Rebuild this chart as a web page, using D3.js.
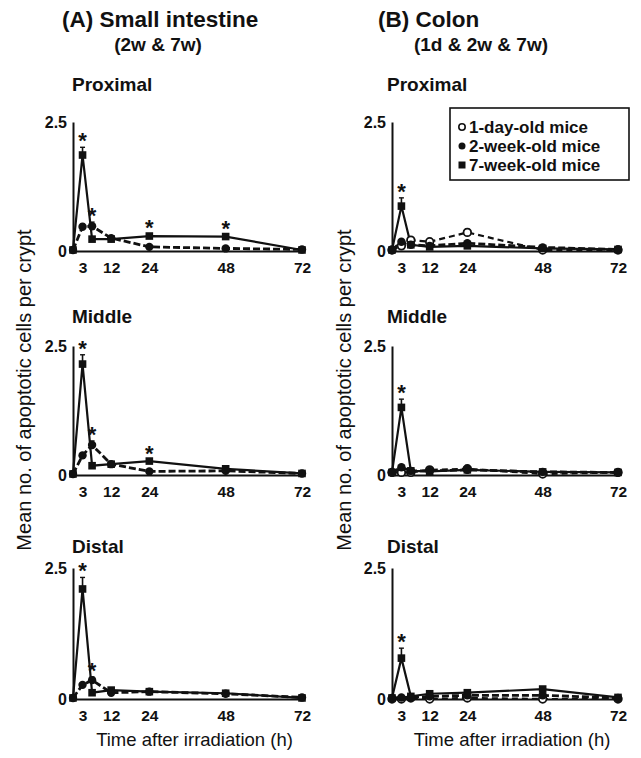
<!DOCTYPE html>
<html>
<head>
<meta charset="utf-8">
<script src="https://cdn.jsdelivr.net/npm/d3@7"></script>
<style>
  body { margin: 0; background: #fff; }
  svg { display: block; font-family: "Liberation Sans", Arial, sans-serif; }
</style>
</head>
<body>
<svg width="641" height="758"></svg>
<script>
// time points (h after irradiation)
var hours = [0, 3, 6, 12, 24, 48, 72];
var xTicks = [3, 12, 24, 48, 72];
var yTicks = [0, 2.5];

// (A) small intestine: 2-week and 7-week mice
var siProximal2w = [0.02, 0.47, 0.48, 0.25, 0.08, 0.05, 0.03];
var siProximal7w = [0.02, 1.86, 0.23, 0.23, 0.29, 0.28, 0.02];
var siMiddle2w = [0.02, 0.38, 0.58, 0.21, 0.07, 0.08, 0.03];
var siMiddle7w = [0.02, 2.15, 0.18, 0.21, 0.27, 0.12, 0.03];
var siDistal2w = [0.02, 0.27, 0.36, 0.12, 0.14, 0.10, 0.03];
var siDistal7w = [0.02, 2.10, 0.12, 0.17, 0.14, 0.11, 0.02];

// upper error bars
var siProximal2wErr = [0, 0.05, 0.08, 0.02, 0.01, 0.01, 0];
var siProximal7wErr = [0, 0.15, 0.02, 0.02, 0.03, 0.03, 0];
var siMiddle2wErr = [0, 0.05, 0.08, 0.02, 0.01, 0.01, 0];
var siMiddle7wErr = [0, 0.18, 0.02, 0.02, 0.03, 0.02, 0];
var siDistal2wErr = [0, 0.04, 0.06, 0.02, 0.02, 0.01, 0];
var siDistal7wErr = [0, 0.22, 0.02, 0.02, 0.02, 0.02, 0];

// (B) colon: 1-day, 2-week and 7-week mice
var coProximal1d = [0.02, 0.10, 0.21, 0.18, 0.36, 0.02, 0.02];
var coProximal2w = [0.02, 0.18, 0.12, 0.10, 0.15, 0.07, 0.03];
var coProximal7w = [0.02, 0.87, 0.12, 0.08, 0.10, 0.05, 0.03];
var coMiddle1d = [0.05, 0.05, 0.05, 0.10, 0.12, 0.02, 0.05];
var coMiddle2w = [0.05, 0.15, 0.08, 0.08, 0.10, 0.06, 0.05];
var coMiddle7w = [0.05, 1.31, 0.08, 0.07, 0.10, 0.06, 0.05];
var coDistal1d = [0.00, 0.00, 0.02, 0.00, 0.02, 0.00, 0.00];
var coDistal2w = [0.02, 0.03, 0.03, 0.05, 0.07, 0.07, 0.02];
var coDistal7w = [0.02, 0.78, 0.05, 0.10, 0.12, 0.19, 0.03];

var coProximal1dErr = [0, 0.02, 0.03, 0.03, 0.06, 0.01, 0];
var coProximal7wErr = [0, 0.16, 0.02, 0.01, 0.02, 0.01, 0];
var coMiddle7wErr = [0, 0.16, 0.01, 0.01, 0.02, 0.01, 0];
var coDistal7wErr = [0, 0.19, 0.01, 0.02, 0.02, 0.03, 0];
var zeroErr = [0, 0, 0, 0, 0, 0, 0];

// significance marks (*)
var siProximalStars = [3, 6, 24, 48];
var siMiddleStars = [3, 6, 24];
var siDistalStars = [3, 6];
var coProximalStars = [3];
var coMiddleStars = [3];
var coDistalStars = [3];

var legendLabels = ["1-day-old mice", "2-week-old mice", "7-week-old mice"];
var sectionNames = ["Proximal", "Middle", "Distal"];

var svg = d3.select("svg");

var styles = {
  d1: { dash: "6,4", width: 2.2, marker: "open" },
  w2: { dash: "7,3", width: 2.8, marker: "circle" },
  w7: { dash: null, width: 2.2, marker: "square" }
};

// layout
var cols = [
  { x0: 73, x1: 302, labelX: 72, yTitleX: 24 },
  { x0: 392, x1: 618, labelX: 387, yTitleX: 344 }
];
var rows = [
  { y0: 251, y1: 122, labelY: 91 },
  { y0: 475, y1: 346, labelY: 323 },
  { y0: 699, y1: 568, labelY: 553 }
];

function mk(key, vals, err) {
  return { key: key, vals: vals, err: err };
}

var panels = [
  { col: 0, row: 0, stars: siProximalStars, series: [mk("w2", siProximal2w, siProximal2wErr), mk("w7", siProximal7w, siProximal7wErr)] },
  { col: 0, row: 1, stars: siMiddleStars, series: [mk("w2", siMiddle2w, siMiddle2wErr), mk("w7", siMiddle7w, siMiddle7wErr)] },
  { col: 0, row: 2, stars: siDistalStars, series: [mk("w2", siDistal2w, siDistal2wErr), mk("w7", siDistal7w, siDistal7wErr)] },
  { col: 1, row: 0, stars: coProximalStars, series: [mk("d1", coProximal1d, coProximal1dErr), mk("w2", coProximal2w, zeroErr), mk("w7", coProximal7w, coProximal7wErr)] },
  { col: 1, row: 1, stars: coMiddleStars, series: [mk("d1", coMiddle1d, zeroErr), mk("w2", coMiddle2w, zeroErr), mk("w7", coMiddle7w, coMiddle7wErr)] },
  { col: 1, row: 2, stars: coDistalStars, series: [mk("d1", coDistal1d, zeroErr), mk("w2", coDistal2w, zeroErr), mk("w7", coDistal7w, coDistal7wErr)] }
];

function drawMarker(sel, type, x, y) {
  if (type === "square") {
    sel.append("rect").attr("x", x - 3.8).attr("y", y - 3.8)
      .attr("width", 7.6).attr("height", 7.6).attr("fill", "#111");
  } else if (type === "circle") {
    sel.append("circle").attr("cx", x).attr("cy", y).attr("r", 4.2).attr("fill", "#111");
  } else {
    sel.append("circle").attr("cx", x).attr("cy", y).attr("r", 3.8)
      .attr("fill", "#fff").attr("stroke", "#111").attr("stroke-width", 1.8);
  }
}

panels.forEach(function (p) {
  var c = cols[p.col], r = rows[p.row];
  var x = d3.scaleLinear().domain([0, 72]).range([c.x0, c.x1]);
  var y = d3.scaleLinear().domain([0, 2.5]).range([r.y0, r.y1]);
  var g = svg.append("g");

  // axes
  var ya = g.append("g").attr("transform", "translate(" + c.x0 + ",0)")
    .call(d3.axisLeft(y).tickValues(yTicks).tickSize(0).tickPadding(6)
      .tickFormat(function (d) { return d === 0 ? "0" : "2.5"; }));
  ya.select(".domain").attr("stroke", "#111").attr("stroke-width", 2);
  ya.selectAll("text").attr("font-size", 16).attr("font-weight", "bold")
    .attr("fill", "#111").attr("font-family", "Liberation Sans, Arial, sans-serif");

  var xa = g.append("g").attr("transform", "translate(0," + r.y0 + ")")
    .call(d3.axisBottom(x).tickValues(xTicks).tickSize(0).tickPadding(11));
  xa.select(".domain").attr("stroke", "#111").attr("stroke-width", 2);
  xa.selectAll("text").attr("font-size", 15.5).attr("font-weight", "bold")
    .attr("fill", "#111").attr("font-family", "Liberation Sans, Arial, sans-serif");

  // lines
  p.series.forEach(function (s) {
    var st = styles[s.key];
    var line = d3.line().x(function (d, i) { return x(hours[i]); }).y(function (d) { return y(d); });
    g.append("path").datum(s.vals).attr("d", line)
      .attr("fill", "none").attr("stroke", "#111")
      .attr("stroke-width", st.width)
      .attr("stroke-dasharray", st.dash);
  });

  // error bars
  p.series.forEach(function (s) {
    s.vals.forEach(function (v, i) {
      if (!s.err[i]) return;
      var xx = x(hours[i]);
      g.append("line").attr("x1", xx).attr("x2", xx)
        .attr("y1", y(v)).attr("y2", y(v + s.err[i]))
        .attr("stroke", "#111").attr("stroke-width", 1.6);
      g.append("line").attr("x1", xx - 2.5).attr("x2", xx + 2.5)
        .attr("y1", y(v + s.err[i])).attr("y2", y(v + s.err[i]))
        .attr("stroke", "#111").attr("stroke-width", 1.4);
    });
  });

  // markers
  p.series.forEach(function (s) {
    var st = styles[s.key];
    s.vals.forEach(function (v, i) {
      drawMarker(g, st.marker, x(hours[i]), y(v));
    });
  });

  // stars
  p.stars.forEach(function (t) {
    var i = hours.indexOf(t);
    var top = d3.max(p.series, function (s) { return s.vals[i] + s.err[i]; });
    g.append("text").attr("x", x(t)).attr("y", y(top) + 1)
      .attr("text-anchor", "middle").attr("font-size", 22).attr("font-weight", "bold")
      .attr("fill", "#111").text("*");
  });

  // section label
  svg.append("text").attr("x", c.labelX).attr("y", r.labelY)
    .attr("font-size", 19).attr("font-weight", "bold").attr("fill", "#111")
    .text(sectionNames[p.row]);
});

// column titles
svg.append("text").attr("x", 62).attr("y", 27).attr("font-size", 22.5)
  .attr("font-weight", "bold").attr("fill", "#111").text("(A) Small intestine");
svg.append("text").attr("x", 158).attr("y", 51).attr("font-size", 19)
  .attr("text-anchor", "middle").attr("font-weight", "bold").attr("fill", "#111").text("(2w & 7w)");
svg.append("text").attr("x", 378).attr("y", 27).attr("font-size", 22.5)
  .attr("font-weight", "bold").attr("fill", "#111").text("(B) Colon");
svg.append("text").attr("x", 481).attr("y", 51).attr("font-size", 19)
  .attr("text-anchor", "middle").attr("font-weight", "bold").attr("fill", "#111").text("(1d & 2w & 7w)");

// axis titles
cols.forEach(function (c) {
  svg.append("text")
    .attr("transform", "translate(" + c.yTitleX + ",390) rotate(-90)")
    .attr("text-anchor", "middle").attr("dy", "0.35em")
    .attr("font-size", 20).attr("fill", "#111")
    .text("Mean no. of apoptotic cells per crypt");
  svg.append("text").attr("x", (c.x0 + c.x1) / 2 + 7).attr("y", 746)
    .attr("text-anchor", "middle").attr("font-size", 18.5).attr("fill", "#111")
    .text("Time after irradiation (h)");
});

// legend
var lg = svg.append("g");
lg.append("rect").attr("x", 450).attr("y", 108).attr("width", 179).attr("height", 72)
  .attr("fill", "#fff").attr("stroke", "#111").attr("stroke-width", 1.6);
var legendKeys = ["d1", "w2", "w7"];
legendLabels.forEach(function (lab, i) {
  var cy = 127 + i * 19;
  var m = styles[legendKeys[i]].marker;
  if (m === "square") {
    lg.append("rect").attr("x", 458.5).attr("y", cy - 3.5).attr("width", 7).attr("height", 7).attr("fill", "#111");
  } else if (m === "circle") {
    lg.append("circle").attr("cx", 462).attr("cy", cy).attr("r", 3.5).attr("fill", "#111");
  } else {
    lg.append("circle").attr("cx", 462).attr("cy", cy).attr("r", 3.2)
      .attr("fill", "#fff").attr("stroke", "#111").attr("stroke-width", 1.6);
  }
  lg.append("text").attr("x", 469).attr("y", cy).attr("dy", "0.36em")
    .attr("font-size", 17).attr("font-weight", "bold").attr("fill", "#111").text(lab);
});
</script>
</body>
</html>
